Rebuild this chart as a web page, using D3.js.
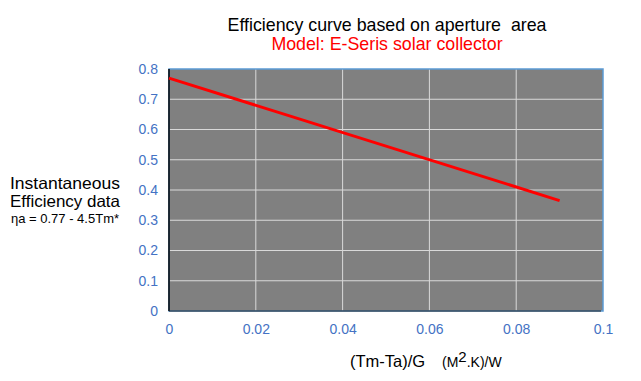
<!DOCTYPE html>
<html><head><meta charset="utf-8">
<script src="https://cdn.jsdelivr.net/npm/d3@7"></script>
<style>body{margin:0;background:#fff}svg{display:block}text{font-family:"Liberation Sans",Arial,sans-serif}</style>
</head><body><svg id="c" width="641" height="381"></svg>
<script>
const xTicks = [0, 0.02, 0.04, 0.06, 0.08, 0.1];
const yTicks = [0, 0.1, 0.2, 0.3, 0.4, 0.5, 0.6, 0.7, 0.8];
const xTickLabels = ["0", "0.02", "0.04", "0.06", "0.08", "0.1"];
const yTickLabels = ["0", "0.1", "0.2", "0.3", "0.4", "0.5", "0.6", "0.7", "0.8"];
const lineX = [0, 0.09];
const lineY = [0.77, 0.365];

const svg = d3.select("#c");
const L = 169, R = 603, T = 69, B = 311;
const x = d3.scaleLinear().domain([0, 0.1]).range([L, R]);
const y = d3.scaleLinear().domain([0, 0.8]).range([B, T]);
const tickColor = "#4472c4";

svg.append("rect").attr("x", L).attr("y", T).attr("width", R - L).attr("height", B - T).attr("fill", "#808080");
// gridlines
svg.append("g").selectAll("line").data(yTicks.slice(1, -1)).join("line")
  .attr("x1", L).attr("x2", R).attr("y1", d => y(d)).attr("y2", d => y(d))
  .attr("stroke", "#d9d9d9").attr("stroke-width", 1);
svg.append("g").selectAll("line").data(xTicks.slice(1, -1)).join("line")
  .attr("y1", T).attr("y2", B).attr("x1", d => x(d)).attr("x2", d => x(d))
  .attr("stroke", "#d9d9d9").attr("stroke-width", 1);
// border
svg.append("rect").attr("x", L).attr("y", T).attr("width", R - L).attr("height", B - T)
  .attr("fill", "none").attr("stroke", "#5b9bd5").attr("stroke-width", 1.5);
svg.append("line").attr("x1", L).attr("x2", L).attr("y1", T).attr("y2", B).attr("stroke", "#000").attr("stroke-width", 1.5);
svg.append("line").attr("x1", L).attr("x2", R - 2).attr("y1", B).attr("y2", B).attr("stroke", "#222").attr("stroke-width", 1);

// axes
const yAxis = d3.axisLeft(y).tickValues(yTicks).tickSize(0).tickPadding(11).tickFormat((d, i) => yTickLabels[i]);
const gy = svg.append("g").attr("transform", `translate(${L},0)`).call(yAxis);
gy.select(".domain").remove();
gy.selectAll("text").attr("fill", tickColor).style("font-size", "14px").style("font-family", "Liberation Sans, Arial, sans-serif");
const xAxis = d3.axisBottom(x).tickValues(xTicks).tickSize(0).tickPadding(13).tickFormat((d, i) => xTickLabels[i]);
const gx = svg.append("g").attr("transform", `translate(0,${B})`).call(xAxis);
gx.select(".domain").remove();
gx.selectAll("text").attr("fill", tickColor).style("font-size", "14px").style("font-family", "Liberation Sans, Arial, sans-serif");

// data line
const pts = lineX.map((v, i) => [v, lineY[i]]);
svg.append("path").datum(pts).attr("d", d3.line().x(d => x(d[0])).y(d => y(d[1])))
  .attr("fill", "none").attr("stroke", "#ff0000").attr("stroke-width", 3);

// titles
svg.append("text").attr("x", 387).attr("y", 31).attr("text-anchor", "middle").attr("fill", "#000")
  .style("font-size", "17.8px").style("white-space", "pre").text("Efficiency curve based on aperture  area");
svg.append("text").attr("x", 387).attr("y", 50).attr("text-anchor", "middle").attr("fill", "#ff0000")
  .style("font-size", "17.8px").text("Model: E-Seris solar collector");

svg.append("text").attr("x", 65).attr("y", 188.5).attr("text-anchor", "middle").style("font-size", "16.5px")
  .attr("textLength", 110).attr("lengthAdjust", "spacingAndGlyphs").text("Instantaneous");
svg.append("text").attr("x", 65).attr("y", 207).attr("text-anchor", "middle").style("font-size", "16.5px")
  .attr("textLength", 110).attr("lengthAdjust", "spacingAndGlyphs").text("Efficiency data");
svg.append("text").attr("x", 65).attr("y", 223).attr("text-anchor", "middle").style("font-size", "13px").text("ηa = 0.77 - 4.5Tm*");

const xt = svg.append("text").attr("x", 350).attr("y", 366.5).style("font-size", "16.5px").style("white-space", "pre");
xt.append("tspan").text("(Tm-Ta)/G");
xt.append("tspan").attr("x", 442).style("font-size", "14px").text("(M");
xt.append("tspan").style("font-size", "15px").attr("dy", -5).text("2");
xt.append("tspan").style("font-size", "14px").attr("dy", 5).text(".K)/W");
</script></body></html>
